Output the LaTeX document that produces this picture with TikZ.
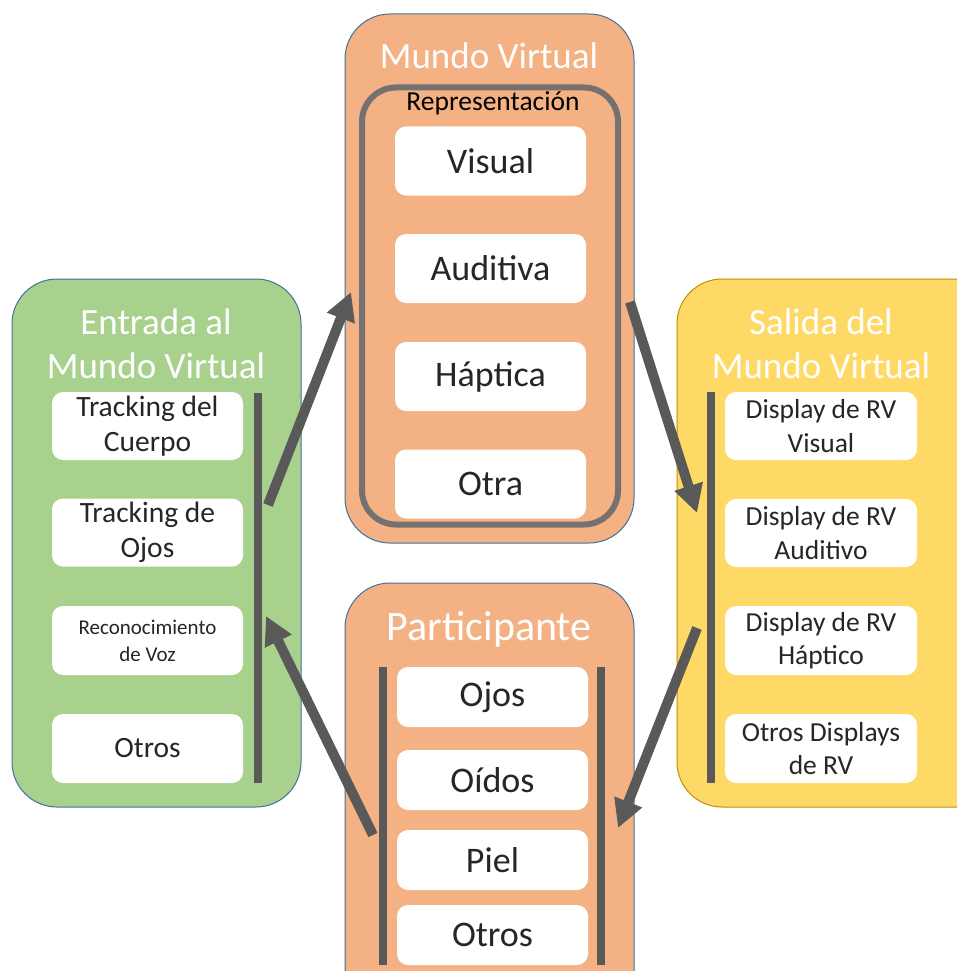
\documentclass[tikz,border=0pt]{standalone}
\usepackage{fontspec}
\setmainfont{Carlito}
\usetikzlibrary{arrows.meta}
\definecolor{panelOrange}{HTML}{F4B183}
\definecolor{panelGreen}{HTML}{A9D18E}
\definecolor{panelYellow}{HTML}{FFD966}
\definecolor{edgeBlue}{HTML}{41719C}
\definecolor{edgeGold}{HTML}{BF9000}
\definecolor{barGray}{HTML}{595959}
\definecolor{frameGray}{HTML}{767171}
\definecolor{itemText}{HTML}{262626}
\tikzset{
  panel/.style={draw=edgeBlue, line width=1pt, rounded corners=45pt, inner sep=0pt},
  item/.style={fill=white, rounded corners=11pt, inner sep=0pt, align=center, text=itemText},
  title/.style={text=white, align=center, inner sep=0pt},
  bar/.style={draw=barGray, line width=8.5pt},
  flow/.style={draw=barGray, line width=10pt, -{Triangle[length=28pt,width=28pt]}},
}
\newcommand{\bigtxt}{\fontsize{36}{44}\selectfont}
\newcommand{\headtxt}{\fontsize{37}{44}\selectfont}
\newcommand{\midtxt}{\fontsize{29.5}{35.5}\selectfont}
\newcommand{\rtxt}{\fontsize{27.5}{33.5}\selectfont}
\begin{document}
\begin{tikzpicture}[x=1pt,y=-1pt]
\useasboundingbox (0,0) rectangle (957,971);
\clip (0,0) rectangle (957,971);
\fill[white] (0,0) rectangle (957,971);

% ---- panels
\node[panel, fill=panelOrange, minimum width=289pt, minimum height=529pt] (world) at (489.5,278.5) {};
\node[panel, fill=panelGreen, minimum width=289pt, minimum height=528pt] (input) at (156.5,543) {};
\node[panel, draw=edgeGold, fill=panelYellow, minimum width=330pt, minimum height=528pt] (output) at (842,543) {};
\node[panel, fill=panelOrange, minimum width=289pt, minimum height=440pt] (user) at (489.5,803) {};

% ---- virtual world
\node[title, font=\headtxt] (worldT) at (489,56) {Mundo Virtual};
\node[draw=frameGray, line width=6pt, rounded corners=34pt, minimum width=256pt, minimum height=437pt, inner sep=0pt] (repr) at (490,306) {};
\node[inner sep=0pt, font=\fontsize{27.5}{33}\selectfont] (reprT) at (493,103) {Representación};
\node[item, font=\bigtxt, minimum width=191pt, minimum height=69pt] (wVis) at (490.5,161) {Visual};
\node[item, font=\bigtxt, minimum width=191pt, minimum height=69pt] (wAud) at (490.5,268.5) {Auditiva};
\node[item, font=\bigtxt, minimum width=191pt, minimum height=69pt] (wHap) at (490.5,376.5) {Háptica};
\node[item, font=\bigtxt, minimum width=191pt, minimum height=69pt] (wOth) at (490.5,484) {Otra};

% ---- input to the virtual world
\node[title, font=\headtxt] (inputT) at (156,344) {Entrada al\\Mundo Virtual};
\node[item, font=\midtxt, minimum width=191pt, minimum height=68pt] (iBody) at (147.5,426) {Tracking del\\Cuerpo};
\node[item, font=\midtxt, minimum width=191pt, minimum height=68pt] (iEyes) at (147.5,532.5) {Tracking de\\Ojos};
\node[item, font=\fontsize{21}{27}\selectfont, minimum width=191pt, minimum height=69pt] (iVoice) at (147.5,640.5) {Reconocimiento\\de Voz};
\node[item, font=\midtxt, minimum width=191pt, minimum height=69pt] (iOth) at (147.5,748.5) {Otros};
\draw[bar] (258,393) -- (258,783);

% ---- output of the virtual world
\node[title, font=\headtxt] (outputT) at (821,344) {Salida del\\Mundo Virtual};
\node[item, font=\rtxt, minimum width=192pt, minimum height=68pt] (oVis) at (821,426) {Display de RV\\Visual};
\node[item, font=\rtxt, minimum width=192pt, minimum height=68pt] (oAud) at (821,533) {Display de RV\\Auditivo};
\node[item, font=\rtxt, minimum width=192pt, minimum height=69pt] (oHap) at (821,640.5) {Display de RV\\Háptico};
\node[item, font=\rtxt, minimum width=192pt, minimum height=69pt] (oOth) at (821,748.5) {Otros Displays\\de RV};
\draw[bar] (711,392) -- (711,783);

% ---- participant
\node[title, font=\fontsize{42}{50}\selectfont] (userT) at (489,629) {Participante};
\node[item, font=\bigtxt, minimum width=191pt, minimum height=60pt] (uEyes) at (492.5,697) {Ojos};
\node[item, font=\bigtxt, minimum width=191pt, minimum height=60pt] (uEars) at (492.5,780) {Oídos};
\node[item, font=\bigtxt, minimum width=191pt, minimum height=60pt] (uSkin) at (492.5,860) {Piel};
\node[item, font=\bigtxt, minimum width=191pt, minimum height=60pt] (uOth) at (492.5,935) {Otros};
\draw[bar] (383,667) -- (383,965);
\draw[bar] (601,667) -- (601,965);

% ---- flow between the blocks
\coordinate (inTail) at (268,505);
\coordinate (worldIn) at (351,292);
\coordinate (worldTail) at (630,302);
\coordinate (outIn) at (697,513);
\coordinate (outTail) at (697,628);
\coordinate (userIn) at (618,828);
\coordinate (userTail) at (373,835);
\coordinate (inputIn) at (266,616);
\draw[flow] (inTail) -- (worldIn);
\draw[flow] (worldTail) -- (outIn);
\draw[flow] (outTail) -- (userIn);
\draw[flow] (userTail) -- (inputIn);
\end{tikzpicture}
\end{document}
